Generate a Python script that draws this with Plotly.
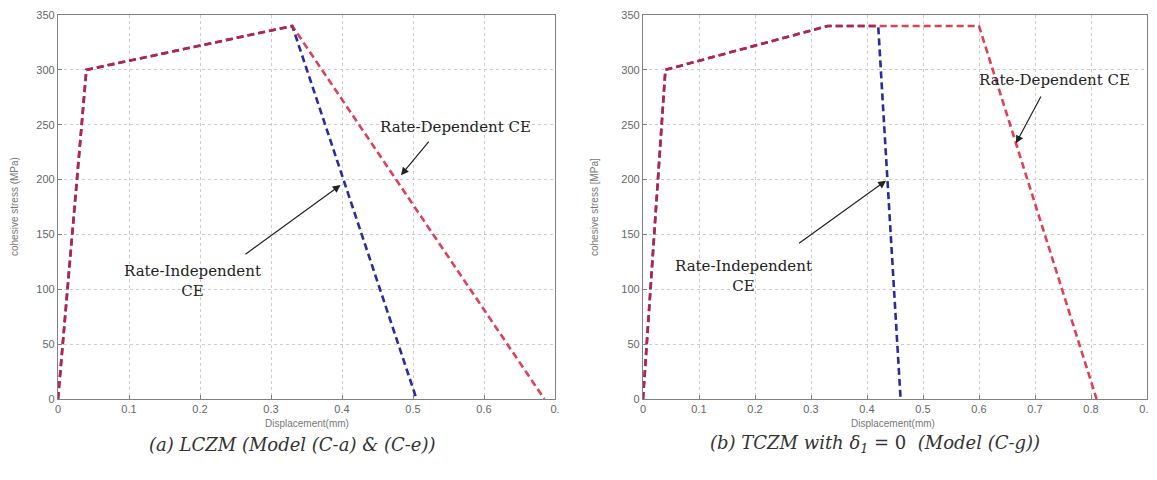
import plotly.graph_objects as go

# Panel (a) LCZM
a_dep_x = [0, 0.04, 0.33, 0.685]
a_dep_y = [0, 300, 340, 0]
a_ind_x = [0, 0.04, 0.33, 0.505]
a_ind_y = [0, 300, 340, 0]

# Panel (b) TCZM
b_dep_x = [0, 0.04, 0.33, 0.60, 0.81]
b_dep_y = [0, 300, 340, 340, 0]
b_ind_x = [0, 0.04, 0.33, 0.42, 0.46]
b_ind_y = [0, 300, 340, 340, 0]

a_xticks = [0, 0.1, 0.2, 0.3, 0.4, 0.5, 0.6, 0.7]
a_xlabels = ["0", "0.1", "0.2", "0.3", "0.4", "0.5", "0.6", "0."]
b_xticks = [0, 0.1, 0.2, 0.3, 0.4, 0.5, 0.6, 0.7, 0.8, 0.9]
b_xlabels = ["0", "0.1", "0.2", "0.3", "0.4", "0.5", "0.6", "0.7", "0.8", "0.9"]
yticks = [0, 50, 100, 150, 200, 250, 300, 350]

RED = "rgba(214,32,56,0.85)"
BLUE = "#2b2b9c"
DASH = "7px,4px"
W = 2.6

# page body has an 8px margin: work in target pixels, convert to figure pixels
OFF = 8
FW, FH = 1157 - OFF, 480 - OFF


def px(x):
    return (x - OFF) / FW


def py(y):
    return 1 - (y - OFF) / FH


fig = go.Figure()
fig.add_trace(go.Scatter(x=a_ind_x, y=a_ind_y, mode="lines", line=dict(color=BLUE, width=W, dash=DASH),
                         xaxis="x", yaxis="y", showlegend=False))
fig.add_trace(go.Scatter(x=a_dep_x, y=a_dep_y, mode="lines", line=dict(color=RED, width=W, dash=DASH),
                         xaxis="x", yaxis="y", showlegend=False))
fig.add_trace(go.Scatter(x=b_ind_x, y=b_ind_y, mode="lines", line=dict(color=BLUE, width=W, dash=DASH),
                         xaxis="x2", yaxis="y2", showlegend=False))
fig.add_trace(go.Scatter(x=b_dep_x, y=b_dep_y, mode="lines", line=dict(color=RED, width=W, dash=DASH),
                         xaxis="x2", yaxis="y2", showlegend=False))

tickfont = dict(family="Liberation Sans, Arial, sans-serif", size=11, color="#666")
axis_common = dict(showline=True, linecolor="#808080", linewidth=1.3, mirror=True,
                   ticks="inside", ticklen=4, tickcolor="#808080",
                   showgrid=True, gridcolor="#cccccc", griddash="dot", gridwidth=1,
                   zeroline=False, tickfont=tickfont, automargin=False)

ydom = [py(399), py(15)]
fig.update_layout(
    width=FW, height=FH,
    margin=dict(l=0, r=0, t=0, b=0),
    paper_bgcolor="white", plot_bgcolor="white",
    xaxis=dict(domain=[px(58), px(555)], range=[0, 0.7], tickvals=a_xticks, ticktext=a_xlabels,
               anchor="y", **axis_common),
    yaxis=dict(domain=ydom, range=[0, 350], tickvals=yticks, anchor="x", **axis_common),
    xaxis2=dict(domain=[px(643), px(1147)], range=[0, 0.9], tickvals=b_xticks, ticktext=b_xlabels,
                anchor="y2", **axis_common),
    yaxis2=dict(domain=ydom, range=[0, 350], tickvals=yticks, anchor="x2", **axis_common),
)

serif = "DejaVu Serif, Liberation Serif, serif"
tfont = dict(family=serif, size=15, color="#222")
lblfont = dict(family="Liberation Sans, Arial, sans-serif", size=10, color="#777")

ann = []
# axis titles
ann.append(dict(text="Displacement(mm)", x=px(307), y=py(423), xref="paper", yref="paper",
                showarrow=False, font=lblfont, xanchor="center", yanchor="middle"))
ann.append(dict(text="Displacement(mm)", x=px(893), y=py(423), xref="paper", yref="paper",
                showarrow=False, font=lblfont, xanchor="center", yanchor="middle"))
ann.append(dict(text="cohesive stress (MPa)", x=px(14), y=py(207), xref="paper", yref="paper",
                showarrow=False, font=lblfont, textangle=-90, xanchor="center", yanchor="middle"))
ann.append(dict(text="cohesive stress [MPa]", x=px(594), y=py(207), xref="paper", yref="paper",
                showarrow=False, font=lblfont, textangle=-90, xanchor="center", yanchor="middle"))
# captions
capfont = dict(family=serif, size=18, color="#333")
ann.append(dict(text="<i>(a) LCZM (Model (C-a) &amp; (C-e))</i>", x=px(292), y=py(444),
                xref="paper", yref="paper", showarrow=False, font=capfont, xanchor="center", yanchor="middle"))
ann.append(dict(text="<i>(b) TCZM with δ<sub>1</sub></i> = 0  <i>(Model (C-g))</i>", x=px(875), y=py(444),
                xref="paper", yref="paper", showarrow=False, font=capfont, xanchor="center", yanchor="middle"))

# panel a labels and arrows
ann.append(dict(text="Rate-Dependent CE", x=0.56, y=248, xref="x", yref="y", showarrow=False, font=tfont))
ann.append(dict(text="", x=0.483, y=204, ax=0.524, ay=236, xref="x", yref="y", axref="x", ayref="y",
                showarrow=True, arrowhead=2, arrowsize=1.3, arrowwidth=1.2, arrowcolor="#222"))
ann.append(dict(text="Rate-Independent<br>CE", x=0.19, y=108, xref="x", yref="y", showarrow=False, font=tfont))
ann.append(dict(text="", x=0.398, y=195, ax=0.262, ay=131, xref="x", yref="y", axref="x", ayref="y",
                showarrow=True, arrowhead=2, arrowsize=1.3, arrowwidth=1.2, arrowcolor="#222"))

# panel b labels and arrows
ann.append(dict(text="Rate-Dependent CE", x=0.735, y=291, xref="x2", yref="y2", showarrow=False, font=tfont))
ann.append(dict(text="", x=0.666, y=233, ax=0.712, ay=277, xref="x2", yref="y2", axref="x2", ayref="y2",
                showarrow=True, arrowhead=2, arrowsize=1.3, arrowwidth=1.2, arrowcolor="#222"))
ann.append(dict(text="Rate-Independent<br>CE", x=0.18, y=112, xref="x2", yref="y2", showarrow=False, font=tfont))
ann.append(dict(text="", x=0.434, y=199, ax=0.276, ay=141, xref="x2", yref="y2", axref="x2", ayref="y2",
                showarrow=True, arrowhead=2, arrowsize=1.3, arrowwidth=1.2, arrowcolor="#222"))

fig.update_layout(annotations=ann)
fig.write_html("out.html")
